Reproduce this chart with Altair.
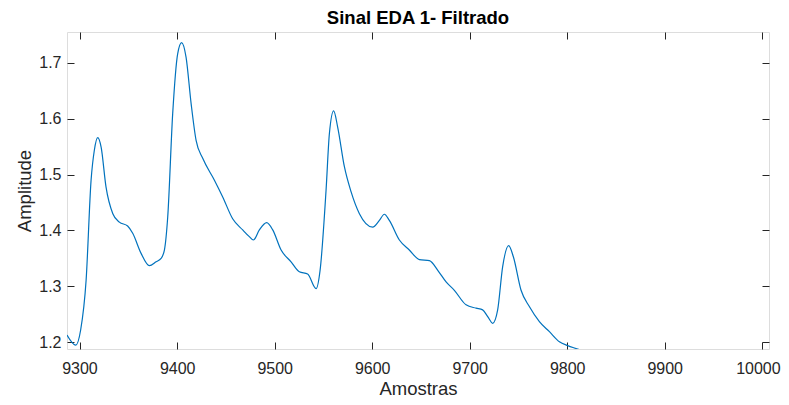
import altair as alt
import pandas as pd

amostras = [9287, 9296, 9301, 9306.6, 9311.7, 9315, 9318.5, 9322, 9327, 9334, 9340.7, 9349.2,
            9354.4, 9363, 9371.5, 9378.4, 9383.5, 9386.9, 9390.3, 9395.4, 9400.5, 9404.6, 9409.1,
            9414.3, 9419.4, 9426.2, 9438.2, 9446.7, 9456.9, 9467.2, 9474, 9478.2, 9484.3, 9491.8,
            9498, 9506.6, 9516.8, 9525.3, 9533.8, 9542.5, 9546.6, 9552.7, 9556.1, 9560.5, 9564.6,
            9571.5, 9578.4, 9586.9, 9600.5, 9607.4, 9612.5, 9617.6, 9627.9, 9638.1, 9648.4,
            9658.7, 9668, 9675.8, 9684.3, 9696.3, 9706.6, 9713.3, 9718.5, 9723.6, 9728.7, 9733.8,
            9740, 9744.8, 9752.7, 9761.2, 9771.5, 9781.8, 9792, 9800.5, 9810.8, 9830]
amplitude = [1.213, 1.195, 1.222, 1.311, 1.490, 1.543, 1.566, 1.549, 1.478, 1.430, 1.415, 1.408,
             1.395, 1.359, 1.337, 1.344, 1.350, 1.365, 1.424, 1.609, 1.716, 1.736, 1.710, 1.627,
             1.561, 1.529, 1.490, 1.460, 1.421, 1.401, 1.389, 1.383, 1.401, 1.414, 1.401, 1.365,
             1.344, 1.326, 1.322, 1.296, 1.329, 1.472, 1.573, 1.614, 1.585, 1.514, 1.469, 1.430,
             1.406, 1.418, 1.429, 1.418, 1.383, 1.365, 1.348, 1.346, 1.327, 1.308, 1.293, 1.267,
             1.261, 1.258, 1.246, 1.234, 1.258, 1.335, 1.373, 1.353, 1.293, 1.264, 1.237, 1.219,
             1.201, 1.194, 1.188, 1.175]

x_ticks = [9300, 9400, 9500, 9600, 9700, 9800, 9900, 10000]
y_ticks = [1.2, 1.3, 1.4, 1.5, 1.6, 1.7]

df = pd.DataFrame({"Amostras": amostras, "Amplitude": amplitude})

FONT = "Liberation Sans"
AX = "#262626"
BOX = "#858585"
TXT = "#262626"
TL = 7

xs = alt.Scale(domain=[9287, 10007], nice=False, zero=False)
ys = alt.Scale(domain=[1.188, 1.755], nice=False, zero=False)

common = dict(domain=False, tickColor=AX, tickSize=TL, offset=-TL, grid=False,
              labelFont=FONT, labelFontSize=16, labelColor=TXT,
              titleFont=FONT, titleFontSize=18.5, titleColor=TXT, titleFontWeight="normal")

main = alt.Chart(df).mark_line(color="#0072BD", strokeWidth=1.2, clip=True,
                               interpolate="monotone").encode(
    x=alt.X("Amostras:Q", scale=xs,
            axis=alt.Axis(values=x_ticks, format="d", title="Amostras",
                          labelFlush=15, labelFlushOffset=18,
                          labelPadding=11, titlePadding=3, orient="bottom", **common)),
    y=alt.Y("Amplitude:Q", scale=ys,
            axis=alt.Axis(values=y_ticks, format=".1f", title="Amplitude",
                          labelPadding=6, titlePadding=4, orient="left", **common)),
)

box = alt.Chart(df).mark_line(strokeOpacity=0, clip=True).encode(
    x=alt.X("Amostras:Q", scale=xs,
            axis=alt.Axis(values=x_ticks, labels=False, title=None, orient="top",
                          domain=False, tickColor=AX, tickSize=TL, offset=-TL, grid=False)),
    y=alt.Y("Amplitude:Q", scale=ys,
            axis=alt.Axis(values=y_ticks, labels=False, title=None, orient="right",
                          domain=False, tickColor=AX, tickSize=TL, offset=-TL, grid=False)),
)

chart = alt.layer(main, box).properties(
    width=702, height=317,
    autosize=alt.AutoSizeParams(type="none"),
    padding={"left": 59, "top": 24, "right": 12, "bottom": 48},
    title=alt.TitleParams("Sinal EDA 1- Filtrado", font=FONT, fontSize=18.5, fontWeight="bold",
                          color="#000000", offset=4, anchor="middle"),
).configure_view(stroke=BOX, strokeWidth=1.3).configure(background="white")

chart.save("out.html", embed_options={"renderer": "svg", "actions": False})
